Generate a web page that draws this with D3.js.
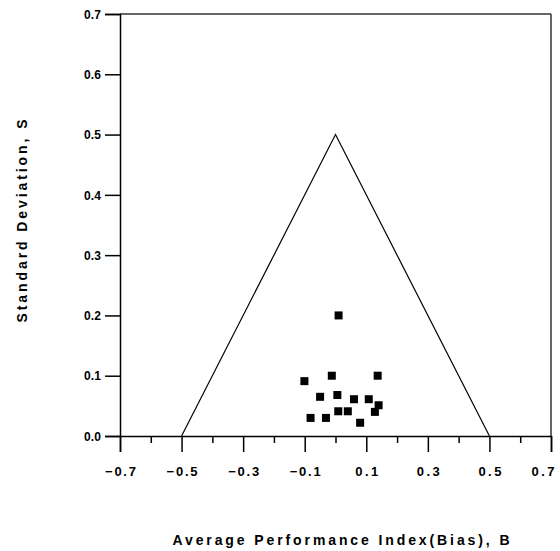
<!DOCTYPE html>
<html><head><meta charset="utf-8">
<script src="https://cdn.jsdelivr.net/npm/d3@7"></script>
<style>body{margin:0;background:#fff}svg{display:block}</style>
</head><body>
<svg id="c" width="560" height="551"></svg>
<script>
const biasValues = [0.010, -0.012, 0.137, -0.101, -0.050, 0.006, 0.060, 0.108, 0.140, 0.128, 0.009, 0.040, -0.081, -0.031, 0.080];
const sdValues   = [0.200, 0.100, 0.100, 0.091, 0.065, 0.068, 0.061, 0.061, 0.051, 0.040, 0.041, 0.041, 0.030, 0.030, 0.022];
const triangleB = [-0.5, 0, 0.5];
const triangleS = [0, 0.5, 0];
const xMajorTicks = [-0.7, -0.5, -0.3, -0.1, 0.1, 0.3, 0.5, 0.7];
const xMinorTicks = [-0.6, -0.4, -0.2, 0, 0.2, 0.4, 0.6];
const yTicks = [0, 0.1, 0.2, 0.3, 0.4, 0.5, 0.6, 0.7];
const xTitle = "Average Performance Index(Bias), B";
const yTitle = "Standard Deviation, S";

const svg = d3.select("#c");
const L = 120, R = 551, T = 14, B = 436;
const x = d3.scaleLinear().domain([-0.7, 0.7]).range([L, R]);
const y = d3.scaleLinear().domain([0, 0.7]).range([B, T]);
const font = "'Liberation Sans', Arial, sans-serif";

// frame
svg.append("line").attr("x1", L).attr("x2", R).attr("y1", T).attr("y2", T).attr("stroke", "#333").attr("stroke-width", 1.3);
svg.append("line").attr("x1", R).attr("x2", R).attr("y1", T).attr("y2", B).attr("stroke", "#333").attr("stroke-width", 1.5);

// x axis
const xAxis = svg.append("g").attr("transform", `translate(0,${B})`)
  .call(d3.axisBottom(x).tickValues(xMajorTicks).tickSize(16).tickFormat(d3.format(".1f")));
svg.append("g").attr("transform", `translate(0,${B})`)
  .call(d3.axisBottom(x).tickValues(xMinorTicks).tickSize(7).tickFormat(""))
  .call(g => g.select(".domain").remove());
// y axis
const yAxis = svg.append("g").attr("transform", `translate(${L},0)`)
  .call(d3.axisLeft(y).tickValues(yTicks).tickSize(15).tickFormat(d3.format(".1f")));

svg.selectAll(".domain").attr("stroke", "#000").attr("stroke-width", 1.5);
svg.selectAll(".tick line").attr("stroke", "#000").attr("stroke-width", 1.5);
xAxis.selectAll(".tick text").attr("y", 31).attr("font-family", font).attr("font-weight", "bold")
  .attr("font-size", 13).attr("fill", "#000")
  .attr("textLength", d => d < 0 ? 31 : 23).attr("lengthAdjust", "spacing")
  .attr("text-anchor", d => d > 0.65 ? "end" : "middle")
  .attr("x", d => d > 0.65 ? 3 : 0);
yAxis.selectAll(".tick text").attr("x", -19).attr("font-family", font).attr("font-weight", "bold")
  .attr("font-size", 12).attr("fill", "#000").attr("dy", "0.35em")
  .attr("textLength", 17).attr("lengthAdjust", "spacing");

// triangle
const tri = triangleB.map((b, i) => [b, triangleS[i]]);
svg.append("path").datum(tri)
  .attr("d", d3.line().x(d => x(d[0])).y(d => y(d[1])))
  .attr("fill", "none").attr("stroke", "#000").attr("stroke-width", 1.2);

// points
const pts = biasValues.map((b, i) => [b, sdValues[i]]);
svg.append("g").selectAll("rect").data(pts).join("rect")
  .attr("x", d => x(d[0]) - 4).attr("y", d => y(d[1]) - 4)
  .attr("width", 8).attr("height", 8).attr("fill", "#000");

// titles
svg.append("text").attr("x", 341).attr("y", 545).attr("text-anchor", "middle")
  .attr("font-family", font).attr("font-weight", "bold").attr("font-size", 14)
  .attr("textLength", 337).attr("lengthAdjust", "spacing").text(xTitle);
svg.append("text").attr("transform", "translate(27,221) rotate(-90)").attr("text-anchor", "middle")
  .attr("font-family", font).attr("font-weight", "bold").attr("font-size", 14)
  .attr("textLength", 203).attr("lengthAdjust", "spacing").text(yTitle);
</script>
</body></html>
